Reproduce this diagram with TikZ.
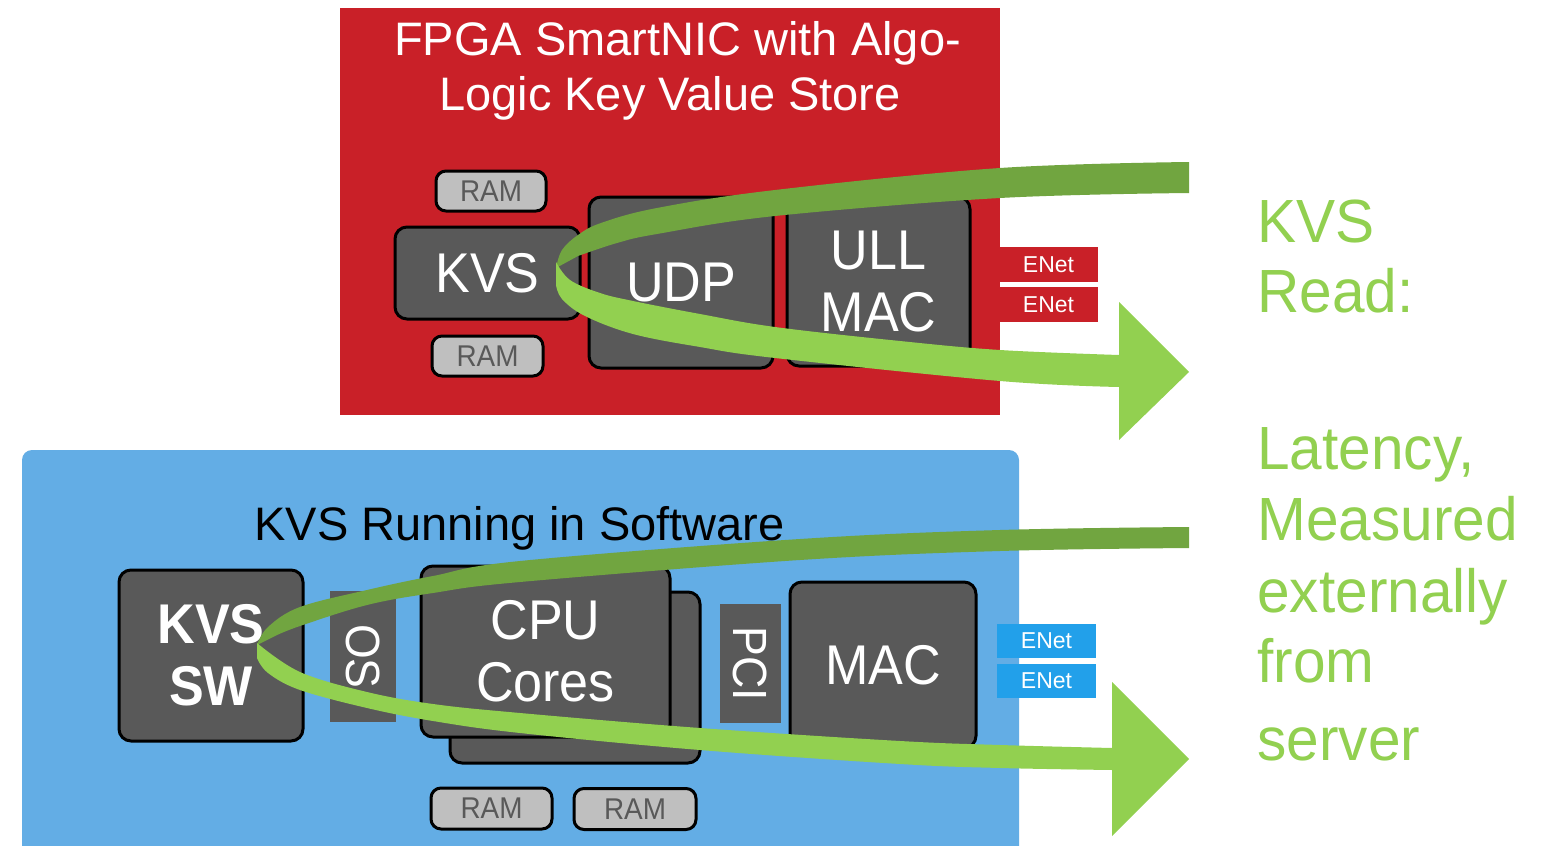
\documentclass[tikz,border=0pt]{standalone}
\usepackage{fontspec}
\setmainfont{Liberation Sans}
\newfontfamily\cond[FakeStretch=0.93]{Liberation Sans}
\newfontfamily\condr[FakeStretch=0.96]{Liberation Sans}
\definecolor{redp}{RGB}{201,32,40}
\definecolor{boxgray}{RGB}{89,89,89}
\definecolor{ramgray}{RGB}{191,191,191}
\definecolor{bluep}{RGB}{99,173,229}
\definecolor{enetb}{RGB}{34,160,234}
\definecolor{glight}{RGB}{146,208,80}
\definecolor{gdark}{RGB}{113,165,64}
\begin{document}
\begin{tikzpicture}[x=0.5pt,y=-0.5pt,
  sz/.style 2 args={minimum width=#1*0.5pt,minimum height=#2*0.5pt},
  blk/.style={draw=black,line width=1.5pt,fill=boxgray,rounded corners=6pt,inner sep=0pt,
    text=white,align=center,font=\cond\fontsize{28}{31}\selectfont},
  ram/.style={draw=black,line width=1.5pt,fill=ramgray,rounded corners=5pt,inner sep=0pt,
    text=boxgray,font=\cond\fontsize{15}{18}\selectfont},
  flat/.style={fill=boxgray,inner sep=0pt,text=white,font=\cond\fontsize{24}{28}\selectfont},
  enetr/.style={fill=redp,inner sep=0pt,text=white,font=\fontsize{11.5}{13}\selectfont,sz={99}{35}},
  enetbl/.style={fill=enetb,inner sep=0pt,text=white,font=\fontsize{11.5}{13}\selectfont,sz={99}{34}},
  ptitle/.style={inner sep=0pt,anchor=base,font=\fontsize{23.5}{27.5}\selectfont},
  rtext/.style={inner sep=0pt,anchor=base west,text=glight,font=\condr\fontsize{30.5}{36}\selectfont}]
\useasboundingbox (0,0) rectangle (1544,846);
\fill[white] (0,0) rectangle (1544,846);
\clip (0,0) rectangle (1544,846);

% panels
\fill[redp] (340,8) rectangle (1000,415);
\fill[bluep,rounded corners=5pt] (22,450) rectangle (1019,880);

\node[ptitle,text=white] (t1) at (677.5,55) {FPGA SmartNIC with Algo-};
\node[ptitle,text=white] (t2) at (670,110) {Logic Key Value Store};
\node[ptitle,text=black] (t3) at (519.5,540) {KVS Running in Software};

% FPGA boxes
\node[ram,sz={110}{40}] (ramA) at (491,191) {RAM};
\node[blk,sz={185}{92}] (kvs) at (487.5,273) {KVS};
\node[ram,sz={111}{40}] (ramB) at (487.5,356) {RAM};
\node[blk,sz={184}{171}] (udp) at (681,282.5) {UDP};
\node[blk,sz={183}{169}] (ull) at (878.5,281.5) {ULL\\MAC};
\node[enetr] (en1) at (1048.5,264.5) {ENet};
\node[enetr] (en2) at (1048.5,304.5) {ENet};

% software boxes
\node[blk,sz={184}{171},font=\cond\bfseries\fontsize{28}{31}\selectfont] (kvssw) at (211,655.5) {KVS\\SW};
\node[flat,rotate=-90,sz={131}{66}] (os) at (363,656.5) {OS};
\node[blk,sz={250}{171}] (cpuback) at (575,677.5) {};
\node[blk,sz={249}{171}] (cpu) at (545.5,651.5) {CPU\\Cores};
\node[flat,rotate=-90,sz={119}{61}] (pci) at (750.5,663.5) {PCI};
\node[blk,sz={186}{166}] (mac) at (883,665) {MAC};
\node[ram,sz={121}{41}] (ramC) at (491.5,808.5) {RAM};
\node[ram,sz={122}{41}] (ramD) at (635,809) {RAM};
\node[enetbl] (en3) at (1046.5,641) {ENet};
\node[enetbl] (en4) at (1046.5,681) {ENet};

% upper arrow
\fill[gdark] plot[smooth,tension=0.6] coordinates {(1189,162) (1000,168) (775,190) (657,208) (601,223) (578,235) (562,250) (556,268)}
  -- plot[smooth,tension=0.6] coordinates {(578,256) (617,243) (657,234) (775,216) (1000,198) (1189,193)} -- cycle;
\fill[glight] plot[smooth,tension=0.6] coordinates {(556,262) (570,280) (600,293) (633,301) (700,314) (775,327) (900,341) (1000,350) (1119,355)}
  -- (1119,302) -- (1189,372) -- (1119,440)
  -- plot[smooth,tension=0.6] coordinates {(1119,387) (1000,381) (775,358) (700,347) (633,334) (585,316) (562,299) (556,285)} -- cycle;

% lower arrow
\fill[gdark] plot[smooth,tension=0.6] coordinates {(1189,527) (1000,530) (800,539) (520,561) (433,576) (367,590) (300,607) (268,627) (257,645)}
  -- plot[smooth,tension=0.6] coordinates {(275,636) (300,626) (367,605) (433,593) (520,582) (800,560) (1000,551) (1189,548)} -- cycle;
\fill[glight] plot[smooth,tension=0.6] coordinates {(257,643) (300,672) (367,692) (433,704) (520,713) (700,728) (900,741) (1000,745) (1112,748)}
  -- (1112,682) -- (1189,759) -- (1112,836)
  -- plot[smooth,tension=0.6] coordinates {(1112,770) (1000,768) (900,764) (700,750) (520,733) (433,721) (367,708) (300,690) (268,673) (257,658)} -- cycle;

% right text
\node[rtext] (r1) at (1257,242) {KVS};
\node[rtext] (r2) at (1257,312) {Read:};
\node[rtext] (r3) at (1257,469) {Latency,};
\node[rtext] (r4) at (1257,540) {Measured};
\node[rtext] (r5) at (1257,612) {externally};
\node[rtext] (r6) at (1257,682) {from};
\node[rtext] (r7) at (1257,760) {server};
\end{tikzpicture}
\end{document}
